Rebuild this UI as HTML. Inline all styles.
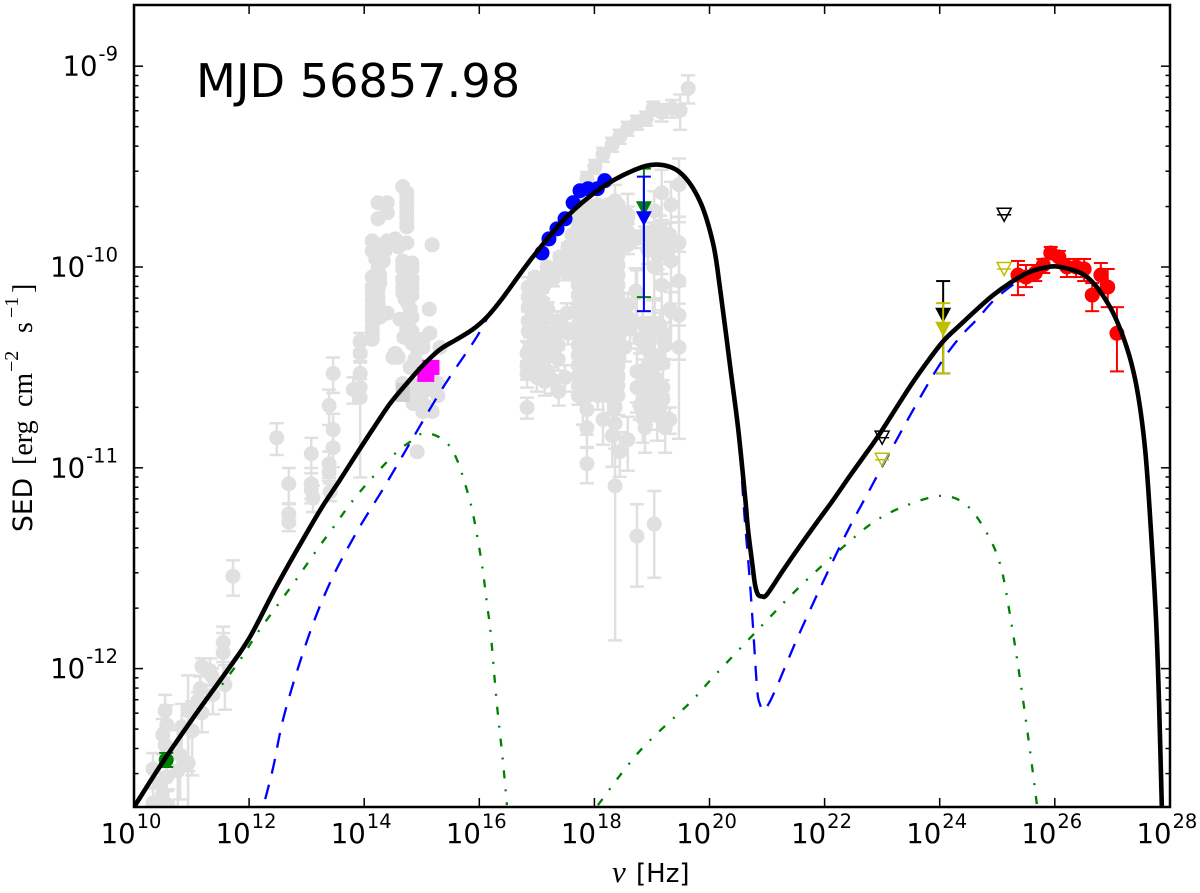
<!DOCTYPE html>
<html><head><meta charset="utf-8"><title>SED MJD 56857.98</title>
<style>
html,body{margin:0;padding:0;background:#fff;}
svg{display:block;}
text{font-family:"DejaVu Sans","Liberation Sans",sans-serif;fill:#000;}
.serif{font-family:"Liberation Serif","DejaVu Serif",serif;}
</style></head>
<body>
<svg id="chart" xmlns="http://www.w3.org/2000/svg" width="1200" height="893" viewBox="0 0 1200 893">
<defs><clipPath id="plot-clip"><rect x="134" y="5" width="1036" height="802"/></clipPath></defs>
<rect width="1200" height="893" fill="#fff"/>
<g id="marks" clip-path="url(#plot-clip)"></g>
<rect x="134" y="5" width="1036" height="802" fill="none" stroke="#000" stroke-width="2.5"/>
<g id="ticks"></g>
<text x="196" y="97" font-size="46.2">MJD 56857.98</text>
<text y="882" font-size="26"><tspan class="serif" font-style="italic" font-size="31" x="612">ν</tspan><tspan x="636">[Hz]</tspan></text>
<text transform="translate(32,532) rotate(-90)" font-size="26.5"><tspan x="0">SED</tspan><tspan class="serif" font-size="28" x="67">[erg</tspan><tspan class="serif" font-size="28" x="125">cm</tspan><tspan class="serif" font-size="20" x="160" dy="-14">−2</tspan><tspan class="serif" font-size="28" x="199" dy="14">s</tspan><tspan class="serif" font-size="20" x="214" dy="-14">−1</tspan><tspan class="serif" font-size="28" x="239" dy="14">]</tspan></text>
</svg>
<script>
// Axis ticks
const xTickExps = [10,12,14,16,18,20,22,24,26,28];
const yTickExps = [-12,-11,-10,-9];
const yMinorDecades = [-13,-12,-11,-10,-9];
const yMinorMultipliers = [2,3,4,5,6,7,8,9];

// Model curves (log10 nu, log10 nuFnu)
const totalLogNu = [10.00,10.50,11.09,11.67,12.02,12.42,12.71,13.01,13.28,13.58,13.87,14.15,14.45,14.74,15.02,15.32,15.61,15.89,16.13,16.39,16.93,17.52,18.10,18.67,19.09,19.49,19.83,20.06,20.18,20.37,20.50,20.62,20.67,20.74,20.79,20.84,20.91,21.00,21.28,21.57,21.87,22.15,22.44,22.74,22.96,23.45,23.74,24.06,24.35,24.65,24.93,25.22,25.52,25.80,26.09,26.56,26.96,27.25,27.43,27.57,27.67,27.76,27.81,27.86];
const totalLogSed = [-12.69,-12.465,-12.22,-11.99,-11.84,-11.62,-11.47,-11.32,-11.19,-11.06,-10.93,-10.807,-10.68,-10.58,-10.49,-10.41,-10.36,-10.31,-10.25,-10.16,-9.95,-9.75,-9.61,-9.52,-9.49,-9.53,-9.67,-9.88,-10.10,-10.52,-10.81,-11.15,-11.31,-11.47,-11.58,-11.63,-11.64,-11.63,-11.51,-11.39,-11.27,-11.16,-11.04,-10.92,-10.83,-10.61,-10.49,-10.37,-10.29,-10.21,-10.14,-10.08,-10.03,-10.005,-10.00,-10.05,-10.20,-10.40,-10.61,-10.91,-11.31,-11.76,-12.16,-12.69];
const blueLogNu = [12.28,12.42,12.62,13.02,13.41,13.87,14.36,14.85,15.37,15.93,16.15,16.39,16.93,17.52,18.10,18.67,19.09,19.49,19.83,20.06,20.18,20.37,20.50,20.60,20.70,20.76,20.83,20.88,20.93,21.02,21.17,21.36,21.57,21.97,22.39,22.82,23.31,23.74,24.06,24.35,24.65,25.00,25.52,25.80,26.09,26.56,26.96,27.25,27.43,27.57,27.67,27.76,27.81,27.86];
const blueLogSed = [-12.65,-12.49,-12.22,-11.85,-11.57,-11.32,-11.09,-10.85,-10.60,-10.36,-10.25,-10.16,-9.95,-9.75,-9.61,-9.52,-9.49,-9.53,-9.67,-9.88,-10.10,-10.52,-10.81,-11.21,-11.56,-11.81,-12.11,-12.18,-12.21,-12.18,-12.09,-11.96,-11.82,-11.57,-11.32,-11.09,-10.83,-10.61,-10.46,-10.35,-10.26,-10.15,-10.04,-10.005,-10.00,-10.05,-10.20,-10.40,-10.61,-10.91,-11.31,-11.76,-12.16,-12.69];
const greenSynLogNu = [11.53,11.86,12.15,12.48,12.81,13.15,13.48,13.81,14.17,14.57,14.80,15.00,15.25,15.48,15.62,15.71,15.86,15.97,16.06,16.13,16.20,16.30,16.41,16.48];
const greenSynLogSed = [-12.08,-11.95,-11.82,-11.69,-11.56,-11.42,-11.29,-11.16,-11.04,-10.92,-10.87,-10.83,-10.84,-10.89,-10.965,-11.04,-11.19,-11.35,-11.51,-11.67,-11.83,-12.16,-12.46,-12.68];
const greenIcLogNu = [18.06,18.79,19.66,20.04,20.83,21.61,22.46,22.91,23.40,24.01,24.44,24.79,25.05,25.22,25.40,25.57,25.69];
const greenIcLogSed = [-12.68,-12.41,-12.17,-12.05,-11.81,-11.58,-11.36,-11.26,-11.19,-11.14,-11.18,-11.31,-11.48,-11.73,-12.06,-12.41,-12.68];

// Archival grey points: log10 nu, log10 SED, fractional error
const radioNu = [10.59,10.33,10.49,10.45,10.57,10.33,10.76,10.94,10.80,10.50,10.57,10.54,10.54,10.83,11.01,10.94,11.18,11.15,11.37,11.58,11.18,11.32,11.55,11.55,11.72,12.48,11.36,11.11];
const radioSed = [-12.68,-12.67,-12.63,-12.57,-12.54,-12.50,-12.51,-12.47,-12.43,-12.33,-12.28,-12.38,-12.21,-12.29,-12.31,-12.21,-12.22,-12.10,-12.13,-12.08,-11.99,-12.01,-11.92,-11.87,-11.54,-10.85,-12.04,-12.16];
const radioErr = [.2,.2,.2,.2,.15,.2,.6,.5,.4,.2,.25,.2,.2,.3,.4,.5,.2,.15,.2,.25,.1,.15,.25,.2,.2,.18,.1,.1];
const irNu = [12.69,12.69,12.69,13.08,13.08,13.11,13.41,13.39,13.46,13.46,13.39,13.46,13.81,13.93,13.93,13.93,13.93];
const irSed = [-11.08,-11.23,-11.27,-10.93,-11.08,-11.15,-11.12,-10.98,-10.90,-10.81,-10.69,-10.53,-10.61,-10.65,-10.53,-10.43,-10.37];
const irErr = [.2,.12,.1,.2,.2,.15,.1,.15,.2,.2,.2,.2,.15,.6,.15,.1,.1];
const nirNu = [14.14,14.14,14.14,14.14,14.14,14.14,14.27,14.40,14.24,14.27,14.24,14.24,14.33,14.14,14.14,14.40,14.54,14.74,14.59,14.24,14.40,14.24,14.40];
const nirSed = [-10.36,-10.30,-10.23,-10.16,-10.10,-10.05,-10.25,-10.23,-10.18,-10.08,-10.01,-10.11,-9.97,-9.92,-9.87,-9.87,-9.86,-9.88,-9.90,-9.76,-9.73,-9.68,-9.68];
const nirErr = [.03,.03,.03,.03,.03,.03,.03,.03,.03,.03,.03,.03,.03,.03,.03,.03,.03,.03,.03,.03,.03,.03,.03];
const optNu = [14.67,14.74,14.74,14.74,14.74,15.18,14.67,14.83,14.83,14.67,14.67,14.83,14.67,14.83,14.76,14.83,14.62,14.74,14.83,15.13,14.54,15.14,15.32,15.02,14.80,14.67,14.85,15.18,15.18,15.28,15.00,14.92,14.88];
const optSed = [-9.60,-9.65,-9.70,-9.75,-9.80,-9.89,-9.97,-9.98,-10.01,-10.01,-10.06,-10.06,-10.13,-10.14,-10.18,-10.25,-10.26,-10.31,-10.38,-10.21,-10.43,-10.33,-10.40,-10.40,-10.50,-10.58,-10.68,-10.72,-10.61,-10.58,-10.63,-10.92,-10.46];
const optErr = [.03,.03,.03,.03,.03,.03,.03,.03,.03,.03,.03,.03,.03,.03,.03,.03,.03,.03,.03,.03,.03,.03,.03,.03,.03,.03,.03,.03,.03,.03,.03,.03,.03];
const fillNu = [14.74,14.74,14.74,14.74,
14.14,14.14,14.14,14.14,14.24,14.24,14.27,14.20,14.20,14.36,
14.67,14.83,14.67,14.83,14.71,14.80,14.76,14.83,14.69,
15.02,14.93,15.06,15.06,14.88,15.28,15.18,14.97,14.50,14.59,14.85,15.02,
13.39,13.08,13.93];
const fillSed = [-9.63,-9.68,-9.73,-9.78,
-10.33,-10.26,-10.20,-10.13,-10.21,-10.15,-10.04,-9.96,-9.89,-9.92,
-9.99,-9.995,-10.10,-10.10,-10.16,-10.21,-10.29,-10.32,-10.35,
-10.36,-10.41,-10.59,-10.69,-10.59,-10.64,-10.52,-10.49,-10.45,-10.45,-10.64,-10.72,
-11.02,-11.11,-10.60];
const fillErr = [.03,.03,.03,.03,
.03,.03,.03,.03,.03,.03,.03,.03,.03,.03,
.03,.03,.03,.03,.03,.03,.03,.03,.03,
.03,.03,.03,.03,.03,.03,.03,.03,.03,.03,.03,.03,
.1,.1,.1];
const arcNu = [19.63,19.49,19.35,19.17,19.02,18.90,18.74,18.58,18.44,18.31,18.15,18.01,17.87];
const arcSed = [-9.11,-9.22,-9.21,-9.23,-9.21,-9.26,-9.28,-9.31,-9.35,-9.39,-9.44,-9.50,-9.56];
const arcErr = [.16,.2,.1,.1,.08,.08,.08,.08,.08,.08,.08,.08,.08];
const hardNu = [19.47,19.17,19.33,19.04,18.36,18.58,19.47,19.17,19.33,19.04,19.47,19.17,18.72,19.33,19.47,19.02];
const hardSed = [-9.59,-9.63,-9.69,-9.72,-9.67,-9.75,-9.88,-9.88,-9.97,-10.00,-10.07,-10.09,-10.12,-10.22,-10.24,-10.28];
const hardErr = [.35,.3,.3,.25,.2,.3,.35,.3,.3,.3,.4,.35,.3,.35,.4,.3];
const softNu = [17.80,17.87,17.87,17.87,18.15,18.31,18.36,18.36,18.36,18.44,18.58,18.74,19.04,18.88,18.84,19.09,19.23,19.19,18.90,19.19,19.05,18.74,19.19,18.74,18.97,19.19,19.05,19.47,19.31,18.74];
const softSed = [-10.66,-10.71,-10.80,-10.98,-10.76,-10.84,-10.78,-10.70,-11.09,-10.92,-10.86,-11.34,-11.28,-10.80,-10.75,-10.74,-10.80,-10.66,-10.66,-10.60,-10.55,-10.60,-10.48,-10.52,-10.43,-10.33,-10.28,-10.40,-10.21,-10.13];
const softErr = [.25,.25,.2,.2,.25,.3,.25,.25,.83,.25,.3,.44,.46,.25,.25,.25,.25,.25,.25,.25,.25,.25,.3,.3,.3,.3,.3,.65,.35,.3];
const leftNu = [16.97,17.18,17.40,17.54,16.85,17.11,17.28,17.52,17.09,16.85,16.85,16.85,17.11,17.35,17.52,16.83,17.09,17.37,17.54,16.83,16.83,17.00,17.19,17.37,17.26,17.49,17.38,16.83,16.97,16.88,17.18,16.85];
const leftSed = [-10.05,-10.00,-9.95,-9.90,-10.10,-10.10,-10.06,-10.03,-10.17,-10.20,-10.27,-10.32,-10.27,-10.27,-10.23,-10.43,-10.41,-10.39,-10.33,-10.49,-10.53,-10.55,-10.52,-10.46,-10.56,-10.55,-10.62,-10.70,-10.33,-10.40,-10.33,-10.15];
const leftErr = [.05,.05,.05,.05,.12,.12,.08,.08,.1,.12,.12,.12,.12,.12,.12,.15,.15,.12,.12,.15,.15,.15,.12,.12,.15,.15,.15,.12,.12,.12,.12,.12];
const leftFillNu = [16.97,16.97,16.97,17.19,17.09,16.97,16.97,17.14,17.23,17.05,17.32,17.44,17.26,17.14,17.32,17.14,17.49,17.61,17.61];
const leftFillSed = [-10.115,-10.21,-10.26,-10.21,-10.22,-10.45,-10.50,-10.46,-10.42,-10.36,-10.34,-10.30,-10.39,-10.57,-10.015,-10.05,-9.965,-9.915,-9.84];
const leftFillErr = [.08,.08,.08,.08,.08,.1,.1,.1,.1,.1,.1,.1,.1,.15,.03,.03,.03,.03,.03];
const denseNu = [17.72,17.72,17.72,17.72,17.72,17.72,17.72,17.72,17.72,17.72,17.72,17.72,17.72,17.72,17.72,17.72,17.72,17.72,17.72,17.72,
17.89,17.89,17.89,17.89,17.89,17.89,17.89,17.89,17.89,17.89,17.89,17.89,17.89,17.89,17.89,17.89,17.89,17.89,17.89,17.89,
18.06,18.06,18.06,18.06,18.06,18.06,18.06,18.06,18.06,18.06,18.06,18.06,18.06,18.06,18.06,18.06,18.06,18.06,18.06,18.06,
18.24,18.24,18.24,18.24,18.24,18.24,18.24,18.24,18.24,18.24,18.24,18.24,18.24,18.24,18.24,18.24,18.24,18.24,18.24,18.24,
18.41,18.41,18.41,18.41,18.41,18.41,18.41,18.41,18.41,18.41,18.41,18.41,18.41,18.41,18.41,18.41,18.41,18.41,18.41,18.41];
const denseSed = [-9.69,-9.74,-9.79,-9.84,-9.89,-9.94,-9.99,-10.04,-10.09,-10.14,-10.19,-10.24,-10.29,-10.34,-10.39,-10.44,-10.49,-10.54,-10.59,-10.64,
-9.69,-9.74,-9.79,-9.84,-9.89,-9.94,-9.99,-10.04,-10.09,-10.14,-10.19,-10.24,-10.29,-10.34,-10.39,-10.44,-10.49,-10.54,-10.59,-10.64,
-9.69,-9.74,-9.79,-9.84,-9.89,-9.94,-9.99,-10.04,-10.09,-10.14,-10.19,-10.24,-10.29,-10.34,-10.39,-10.44,-10.49,-10.54,-10.59,-10.64,
-9.69,-9.74,-9.79,-9.84,-9.89,-9.94,-9.99,-10.04,-10.09,-10.14,-10.19,-10.24,-10.29,-10.34,-10.39,-10.44,-10.49,-10.54,-10.59,-10.64,
-9.69,-9.74,-9.79,-9.84,-9.89,-9.94,-9.99,-10.04,-10.09,-10.14,-10.19,-10.24,-10.29,-10.34,-10.39,-10.44,-10.49,-10.54,-10.59,-10.64];
const denseErr = [.03,.03,.03,.03,.03,.03,.03,.03,.03,.03,.03,.03,.03,.03,.03,.03,.03,.1,.1,.1,
.03,.03,.03,.03,.03,.03,.03,.03,.03,.03,.03,.03,.03,.03,.03,.03,.03,.1,.1,.15,
.03,.03,.03,.03,.03,.03,.03,.03,.03,.03,.03,.03,.03,.03,.03,.03,.03,.1,.15,.15,
.03,.03,.03,.03,.03,.03,.03,.03,.03,.03,.03,.03,.03,.03,.03,.03,.03,.1,.15,.2,
.03,.03,.03,.03,.03,.03,.03,.03,.03,.03,.03,.03,.03,.03,.03,.03,.03,.1,.1,.2];
const extraNu = [18.58,18.57,18.71,18.88,19.02,19.05,18.58,18.84,18.62,18.53,18.58,18.79,18.93,18.58,18.88];
const extraSed = [-9.74,-9.82,-9.86,-9.84,-9.82,-9.88,-9.89,-10.28,-10.31,-10.40,-10.19,-10.36,-10.34,-10.25,-10.39];
const extraErr = [.1,.1,.1,.1,.1,.1,.1,.15,.15,.15,.15,.15,.15,.15,.15];
const rightFillNu = [18.97,19.14,19.23,18.97,19.05,18.79,19.31,18.93,19.05,18.97,18.88,18.93,19.10,19.28,19.14,19.31];
const rightFillSed = [-10.31,-10.29,-10.39,-10.74,-10.69,-10.69,-10.76,-10.49,-10.44,-10.61,-10.55,-9.915,-9.94,-9.915,-9.805,-9.84];
const rightFillErr = [.15,.15,.15,.15,.15,.15,.15,.15,.15,.15,.15,.15,.15,.15,.15,.15];

// Observed data of this epoch
const magentaNu = [15.16,15.07];
const magentaSed = [-10.50,-10.535];
const greySquareNu = [14.67];
const greySquareSed = [-10.625];
const blueDotNu = [17.09,17.21,17.35,17.49,17.63,17.75,17.89,18.05,18.18];
const blueDotSed = [-9.93,-9.86,-9.81,-9.76,-9.68,-9.62,-9.61,-9.61,-9.57];
const redNu = [25.36,25.50,25.66,25.80,25.93,26.07,26.21,26.37,26.51,26.65,26.80,26.92,27.08];
const redSed = [-10.04,-10.05,-10.03,-9.99,-9.93,-9.95,-10.00,-10.00,-10.01,-10.14,-10.04,-10.10,-10.33];
const redUp = [-9.97,-9.99,-9.99,-9.96,-9.90,-9.92,-9.96,-9.96,-9.96,-10.08,-9.98,-10.01,-10.20];
const redDown = [-10.14,-10.10,-10.07,-10.03,-9.96,-9.99,-10.05,-10.05,-10.07,-10.22,-10.11,-10.20,-10.52];
const triNames = ['green-xray-limit','blue-xray-limit','black-gamma-limit','olive-gamma-limit'];
const triColors = ['#008000','#0000ff','#000000','#bfbf00'];
const triNu = [18.86,18.86,24.06,24.06];
const triSed = [-9.71,-9.76,-10.24,-10.31];
const triUp = [-9.51,-9.55,-10.07,-10.18];
const triDown = [-10.15,-10.22,-10.53,-10.53];
const openNames = ['black-open-limit-high','olive-open-limit-high','black-open-limit-low','olive-open-limit-low'];
const openColors = ['#000000','#bfbf00','#000000','#bfbf00'];
const openNu = [25.12,25.12,23.00,23.00];
const openSed = [-9.74,-10.01,-10.85,-10.96];
const radioDotNu = [10.56];
const radioDotSed = [-12.455];
const radioDotUp = [-12.42];
const radioDotDown = [-12.49];

const NS = 'http://www.w3.org/2000/svg';
const marks = document.getElementById('marks');
const ticks = document.getElementById('ticks');
const chart = document.getElementById('chart');
const X = v => 134 + (v - 10) * 57.55;
const Y = v => 267 + (-10 - v) * 200.8;
const PT_R = 7.5;

function make(tag, parent, attrs) {
  const el = document.createElementNS(NS, tag);
  for (const k in attrs) el.setAttribute(k, attrs[k]);
  parent.appendChild(el);
  return el;
}
function errorBar(parent, x, yTop, yBot, color, width, capW) {
  const g = make('g', parent, {stroke: color, 'stroke-width': width, fill: 'none'});
  
  
  make('line', g, {x1: x, x2: x, y1: yTop, y2: yBot});
  make('line', g, {x1: x - capW, x2: x + capW, y1: yTop, y2: yTop});
  make('line', g, {x1: x - capW, x2: x + capW, y1: yBot, y2: yBot});
  return g;
}
function curvePath(nu, sed) {
  const p = nu.map((n, i) => [X(n), Y(sed[i])]);
  let d = 'M' + p[0][0].toFixed(2) + ' ' + p[0][1].toFixed(2);
  for (let i = 0; i < p.length - 1; i++) {
    const a = p[Math.max(i - 1, 0)], b = p[i], c = p[i + 1], e = p[Math.min(i + 2, p.length - 1)];
    const c1x = b[0] + (c[0] - a[0]) / 6, c1y = b[1] + (c[1] - a[1]) / 6;
    const c2x = c[0] - (e[0] - b[0]) / 6, c2y = c[1] - (e[1] - b[1]) / 6;
    d += 'C' + [c1x, c1y, c2x, c2y, c[0], c[1]].map(v => v.toFixed(2)).join(' ');
  }
  return d;
}
function triPoints(x, y, w, h) {
  return (x - w / 2) + ',' + (y - h / 2) + ' ' + (x + w / 2) + ',' + (y - h / 2) + ' ' + x + ',' + (y + h / 2);
}

// Grey archival layer: error bars first, then circles
const greySets = [
  [radioNu, radioSed, radioErr], [irNu, irSed, irErr], [nirNu, nirSed, nirErr], [optNu, optSed, optErr],
  [fillNu, fillSed, fillErr], [arcNu, arcSed, arcErr], [hardNu, hardSed, hardErr], [softNu, softSed, softErr],
  [leftNu, leftSed, leftErr], [leftFillNu, leftFillSed, leftFillErr], [denseNu, denseSed, denseErr],
  [extraNu, extraSed, extraErr], [rightFillNu, rightFillSed, rightFillErr]
];
const greyErrLayer = make('g', marks, {});


const greyDotLayer = make('g', marks, {});


greySets.forEach(set => {
  set[0].forEach((n, i) => {
    const s = set[1][i], e = set[2][i];
    const x = X(n);
    errorBar(greyErrLayer, x, Y(s + Math.log10(1 + e)), Y(s + Math.log10(1 - e)), '#e0e0e0', 2.5, 7);
    const c = make('circle', greyDotLayer, {cx: x, cy: Y(s), r: PT_R, fill: '#e0e0e0'});
    
    
  });
});

// Grey square marker
greySquareNu.forEach((n, i) => {
  const r = make('rect', marks, {x: X(n) - 7, y: Y(greySquareSed[i]) - 9.5, width: 14, height: 19, fill: '#d0d0d0'});
  
  
});

// Magenta squares
magentaNu.forEach((n, i) => {
  const r = make('rect', marks, {x: X(n) - 8.5, y: Y(magentaSed[i]) - 7.5, width: 17, height: 15, fill: '#ff00ff'});
  
  
});

// Model dashed components
const greenSyn = make('path', marks, {d: curvePath(greenSynLogNu, greenSynLogSed), fill: 'none', stroke: '#008000', 'stroke-width': 2.3, 'stroke-dasharray': '8 11 2 11', 'stroke-dashoffset': 19});


const greenIc = make('path', marks, {d: curvePath(greenIcLogNu, greenIcLogSed), fill: 'none', stroke: '#008000', 'stroke-width': 2.3, 'stroke-dasharray': '8 11 2 11'});


const blueCurve = make('path', marks, {d: curvePath(blueLogNu, blueLogSed), fill: 'none', stroke: '#0000ff', 'stroke-width': 2.3, 'stroke-dasharray': '15 11.5'});



// Radio point
radioDotNu.forEach((n, i) => {
  errorBar(marks, X(n), Y(radioDotUp[i]), Y(radioDotDown[i]), '#008000', 2, 7);
  const c = make('circle', marks, {cx: X(n), cy: Y(radioDotSed[i]), r: PT_R, fill: '#008000'});
  
  
});

// Blue X-ray dots
blueDotNu.forEach((n, i) => {
  const c = make('circle', marks, {cx: X(n), cy: Y(blueDotSed[i]), r: PT_R, fill: '#0000ff'});
  
  
});

// Red VHE points
redNu.forEach((n, i) => {
  errorBar(marks, X(n), Y(redUp[i]), Y(redDown[i]), '#ff0000', 2, 7);
  const c = make('circle', marks, {cx: X(n), cy: Y(redSed[i]), r: PT_R, fill: '#ff0000'});
  
  
});

// Filled triangle points with error bars
triNu.forEach((n, i) => {
  errorBar(marks, X(n), Y(triUp[i]), Y(triDown[i]), triColors[i], 2, 7);
  const t = make('polygon', marks, {points: triPoints(X(n), Y(triSed[i]), 16, 15), fill: triColors[i]});
  
  
});

// Open triangles
openNu.forEach((n, i) => {
  const x = X(n), y = Y(openSed[i]);
  const t = make('polygon', marks, {points: triPoints(x, y, 14, 13), fill: 'none', stroke: openColors[i], 'stroke-width': 1.5});
  
  
  const l = make('line', marks, {x1: x - 7, x2: x + 7, y1: y, y2: y, stroke: openColors[i], 'stroke-width': 1.5});
  
  
});

// Total model
const total = make('path', marks, {d: curvePath(totalLogNu, totalLogSed), fill: 'none', stroke: '#000', 'stroke-width': 4.6, 'stroke-linejoin': 'round'});



// Ticks and labels
function tickLine(x1, y1, x2, y2, w) {
  const l = make('line', ticks, {x1, y1, x2, y2, stroke: '#000', 'stroke-width': w});
  
  
}
function expLabel(x, y, anchor, exp) {
  const t = make('text', chart, {x, y, 'text-anchor': anchor, 'font-size': 27.5});
  
  
  const a = make('tspan', t, {});
  a.textContent = '10';
  const b = make('tspan', t, {dy: -15, dx: 1, 'font-size': 19.5});
  b.textContent = String(exp);
}
xTickExps.forEach(e => {
  const x = X(e);
  tickLine(x, 807, x, 798, 1.5);
  tickLine(x, 5, x, 14, 1.5);
  expLabel(x - 3, 843, 'middle', e);
});
yTickExps.forEach(e => {
  const y = Y(e);
  tickLine(134, y, 143, y, 1.5);
  tickLine(1170, y, 1161, y, 1.5);
  expLabel(118, y + 9.5, 'end', e);
});
yMinorDecades.forEach(d => {
  yMinorMultipliers.forEach(m => {
    const y = Y(d + Math.log10(m));
    if (y > 806 || y < 6) return;
    tickLine(134, y, 138.5, y, 1.5);
    tickLine(1170, y, 1165.5, y, 1.5);
  });
});
</script>
</body></html>
